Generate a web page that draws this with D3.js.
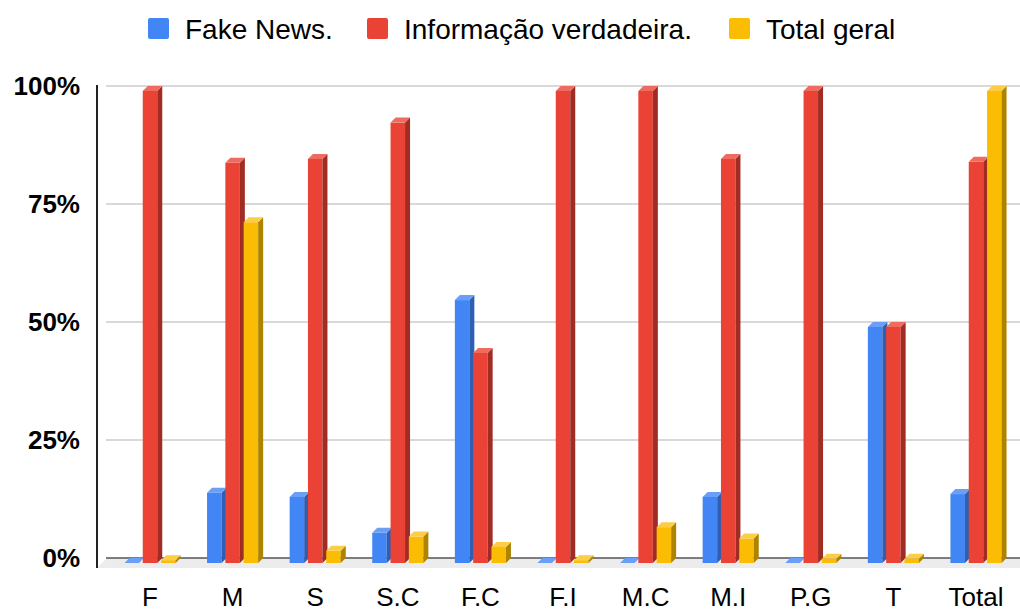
<!DOCTYPE html>
<html>
<head>
<meta charset="utf-8">
<script src="https://cdn.jsdelivr.net/npm/d3@7"></script>
<style>
body{margin:0;background:#fff;}
text{font-family:Arial,"Liberation Sans",sans-serif;fill:#000;}
</style>
</head>
<body>
<script>
var categories=["F","M","S","S.C","F.C","F.I","M.C","M.I","P.G","T","Total"]
var seriesNames=["Fake News.","Informação verdadeira.","Total geral"]
var fakeNews=[0,0.149,0.14,0.064,0.557,0,0,0.14,0,0.5,0.146]
var infoVerdadeira=[1,0.848,0.856,0.933,0.445,1,1,0.856,1,0.5,0.85]
var totalGeral=[0.006,0.722,0.026,0.056,0.034,0.006,0.076,0.052,0.009,0.009,1]
var yTicks=[0,0.25,0.5,0.75,1]

var colors=["#4285f4","#ea4335","#fbbc04"]
var sideColors=["#2f5eb3","#a02c24","#ad8300"]
var topColors=["#6a9ff7","#ef6b60","#fccd45"]

var values=[fakeNews,infoVerdadeira,totalGeral]

var width=1020, height=612
var depth=5
var floorFront=563

var svg=d3.select("body").append("svg")
  .attr("width",width)
  .attr("height",height)

var x=d3.scaleBand().domain(categories).range([108.7,1017.3]).padding(0)
var xs=d3.scaleBand().domain(seriesNames).range([-25.55,25.55]).paddingInner(0.2077).paddingOuter(0)
var y=d3.scaleLinear().domain([0,1]).range([558,86])

// floor
svg.append("polygon")
  .attr("points",[[107,558],[1020,558],[1020,568],[97,568]].map(function(p){return p.join(",")}).join(" "))
  .attr("fill","#ececec")

// gridlines
svg.selectAll(".grid")
  .data(yTicks.filter(function(d){return d>0}))
  .enter().append("line")
  .attr("x1",106).attr("x2",width)
  .attr("y1",function(d){return y(d)}).attr("y2",function(d){return y(d)})
  .attr("stroke","#cccccc").attr("stroke-width",1.5)

svg.append("line")
  .attr("x1",106).attr("x2",width)
  .attr("y1",y(0)).attr("y2",y(0))
  .attr("stroke","#555").attr("stroke-width",1.5)

// axis line
svg.append("line")
  .attr("x1",97).attr("x2",97).attr("y1",85).attr("y2",568)
  .attr("stroke","#222").attr("stroke-width",2)

// bars
var bars=[]
categories.forEach(function(c,i){
  seriesNames.forEach(function(s,j){
    bars.push({cat:c,series:j,value:values[j][i],x0:x(c)+x.bandwidth()/2+xs(s)})
  })
})
var w=xs.bandwidth()

var g=svg.selectAll(".bar").data(bars).enter().append("g")

g.append("rect")
  .attr("x",function(d){return d.x0})
  .attr("y",function(d){return y(d.value)+depth})
  .attr("width",w)
  .attr("height",function(d){return floorFront-(y(d.value)+depth)})
  .attr("fill",function(d){return colors[d.series]})

g.append("polygon")
  .attr("points",function(d){
    var yf=y(d.value)+depth
    return [[d.x0+w,yf],[d.x0+w+depth,yf-depth],[d.x0+w+depth,floorFront-depth],[d.x0+w,floorFront]].join(" ")
  })
  .attr("fill",function(d){return sideColors[d.series]})

g.append("polygon")
  .attr("points",function(d){
    var yf=y(d.value)+depth
    return [[d.x0,yf],[d.x0+depth,yf-depth],[d.x0+w+depth,yf-depth],[d.x0+w,yf]].join(" ")
  })
  .attr("fill",function(d){return topColors[d.series]})

// y labels
svg.selectAll(".ylab")
  .data(yTicks)
  .enter().append("text")
  .attr("x",80)
  .attr("y",function(d){return y(d)})
  .attr("dy","0.36em")
  .attr("text-anchor","end")
  .attr("font-size",26)
  .attr("font-weight","bold")
  .text(d3.format(".0%"))

// x labels
svg.selectAll(".xlab")
  .data(categories)
  .enter().append("text")
  .attr("x",function(d){return x(d)+x.bandwidth()/2})
  .attr("y",606)
  .attr("text-anchor","middle")
  .attr("font-size",26)
  .text(function(d){return d})

// legend
var legendX=[148,367,729]
var leg=svg.selectAll(".leg").data(seriesNames).enter().append("g")
  .attr("transform",function(d,i){return "translate("+legendX[i]+",0)"})
leg.append("rect")
  .attr("x",0).attr("y",18).attr("width",21).attr("height",21).attr("rx",2)
  .attr("fill",function(d,i){return colors[i]})
leg.append("text")
  .attr("x",37).attr("y",39)
  .attr("font-size",28)
  .text(function(d){return d})
</script>
</body>
</html>
